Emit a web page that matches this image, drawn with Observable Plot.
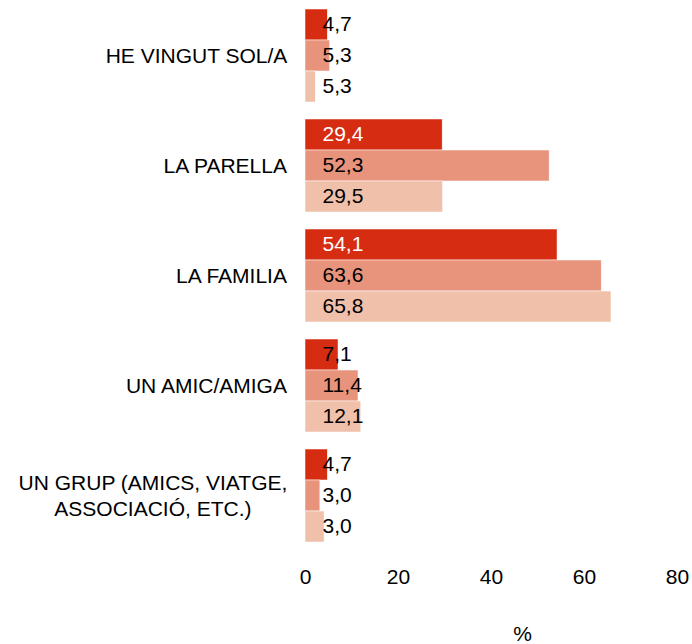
<!DOCTYPE html>
<html>
<head>
<meta charset="utf-8">
<script src="https://cdn.jsdelivr.net/npm/d3@7"></script>
<script src="https://cdn.jsdelivr.net/npm/@observablehq/plot@0.6"></script>
<style>
  html, body { margin: 0; padding: 0; background: #fff; }
  #chart { width: 692px; height: 644px; }
</style>
</head>
<body>
<div id="chart"></div>
<script>
// Categories (top to bottom)
const categories = [
  "HE VINGUT SOL/A",
  "LA PARELLA",
  "LA FAMILIA",
  "UN AMIC/AMIGA",
  "UN GRUP (AMICS, VIATGE,\nASSOCIACIÓ, ETC.)"
];
// Three unnamed series (no legend in the reference)
const series = ["Sèrie 1", "Sèrie 2", "Sèrie 3"];
const seriesColors = ["#d62c12", "#e8947c", "#f0c0aa"];

// Bar lengths as drawn in the reference (%)
const barSerie1 = [4.8, 29.5, 54.2, 7.1, 4.8];
const barSerie2 = [5.3, 52.5, 63.7, 11.4, 3.2];
const barSerie3 = [2.2, 29.6, 65.8, 12.0, 4.1];

// Value labels printed on the bars (%)
const labelSerie1 = [4.7, 29.4, 54.1, 7.1, 4.7];
const labelSerie2 = [5.3, 52.3, 63.6, 11.4, 3.0];
const labelSerie3 = [5.3, 29.5, 65.8, 12.1, 3.0];

const xTicks = [0, 20, 40, 60, 80];
const axisTitle = "%";

const bars = [barSerie1, barSerie2, barSerie3];
const labels = [labelSerie1, labelSerie2, labelSerie3];
const rows = [];
categories.forEach((c, i) => {
  series.forEach((s, j) => {
    rows.push({category: c, series: s, si: j, bar: bars[j][i], label: labels[j][i]});
  });
});

const FS = 21;
const fontFamily = "'Liberation Sans', Arial, Helvetica, sans-serif";
const fmt = v => v.toFixed(1).replace(".", ",");

// measure category label widths for centered multi-line blocks right-aligned to the axis
const ctx = document.createElement("canvas").getContext("2d");
ctx.font = `${FS}px ${fontFamily}`;
const labelGap = 18;
const categoryMarks = categories.map(c => {
  const w = Math.max(...c.split("\n").map(l => ctx.measureText(l).width));
  return Plot.text([c], {
    fy: d => d,
    text: d => d,
    frameAnchor: "left",
    textAnchor: "middle",
    dx: -labelGap - w / 2,
    dy: -1,
    lineHeight: 1.24,
    fontSize: FS,
    fill: "#000"
  });
});

const chart = Plot.plot({
  width: 692,
  height: 644,
  marginLeft: 305,
  marginRight: 15,
  marginTop: 6,
  marginBottom: 99,
  style: {fontFamily, fontSize: `${FS}px`, color: "#000", background: "#fff"},
  x: {domain: [0, 80], ticks: xTicks, axis: null},
  fy: {domain: categories, paddingInner: 0.135, paddingOuter: 0, axis: null},
  y: {domain: series, padding: 0, axis: null},
  color: {domain: series, range: seriesColors},
  marks: [
    Plot.barX(rows, {x: "bar", y: "series", fy: "category", fill: "series", stroke: "#fff", strokeWidth: 0.5}),
    Plot.text(rows, {
      y: "series",
      fy: "category",
      text: d => fmt(d.label),
      frameAnchor: "left",
      textAnchor: "start",
      dx: 17,
      dy: -1,
      fontSize: FS,
      fill: d => (d.si === 0 && d.bar > 20 ? "#fff" : "#000")
    }),
    ...categoryMarks,
    Plot.axisX({
      ticks: xTicks,
      tickSize: 0,
      tickPadding: 26,
      fontSize: FS,
      label: null,
      facetAnchor: "bottom"
    }),
    Plot.text([{category: categories[categories.length - 1], t: axisTitle}], {
      fy: "category",
      text: "t",
      frameAnchor: "bottom",
      lineAnchor: "middle",
      dx: 31,
      dy: 91,
      fontSize: FS,
      fill: "#000"
    })
  ]
});

document.getElementById("chart").append(chart);
</script>
</body>
</html>
